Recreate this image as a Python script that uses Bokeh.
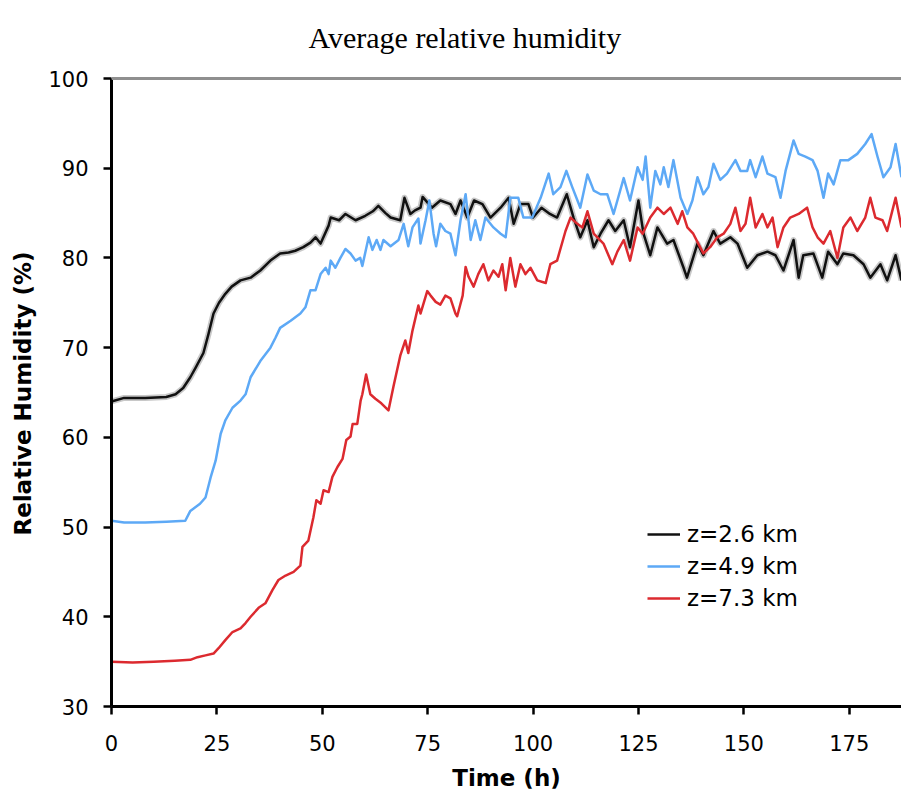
from bokeh.plotting import figure
from bokeh.models import Range1d, Span, Legend, LegendItem, FixedTicker, Label
from bokeh.embed import file_html
from bokeh.resources import INLINE

# ---------------- data ----------------
black_t = [0, 3, 8, 13, 15.2, 17, 18.7, 20, 21.8, 23, 24.2, 25.5, 27, 28.5, 30.6, 33, 35.3, 37.7, 40, 42,
           43.6, 45.5, 47.2, 48.4, 49.6, 51.5, 52, 54, 55.5, 57.9, 60.2, 62, 63.3, 65, 66.2, 68.5, 69.5, 70.9, 72, 73.3,
           73.8, 76, 78, 80.4, 81.6, 82.8, 84.4, 86, 88, 89.9, 92.3, 94.2, 95.4, 97, 98.9, 100, 102, 104, 105.7, 108,
           109.6, 111.2, 112.9, 114.4, 116, 117.9, 119.5, 121.5, 123, 125, 126.2, 127.8, 129.5, 131.8, 133.3, 135.7, 136.5, 139, 140.4, 142.8,
           144.4, 146.8, 148.5, 150.8, 153.2, 155.6, 157.5, 159.4, 161.8, 163, 164.1, 166.5, 168.6, 170, 172.2, 173.6, 176, 178.4, 180, 182.4,
           184, 186, 187.4]
black_rh = [64.0, 64.4, 64.4, 64.5, 64.8, 65.5, 66.7, 67.8, 69.4, 71.5, 73.8, 75.0, 76.0, 76.8, 77.5, 77.8, 78.6, 79.7, 80.5, 80.6,
            80.8, 81.2, 81.7, 82.3, 81.6, 83.6, 84.5, 84.2, 84.9, 84.2, 84.7, 85.2, 85.8, 85.0, 84.5, 84.2, 86.7, 84.9, 85.3, 85.6,
            86.8, 85.6, 86.4, 86.0, 84.9, 86.4, 84.5, 86.4, 86.0, 84.5, 85.6, 86.7, 83.8, 86.0, 86.0, 84.5, 85.6, 84.9, 84.5, 87.1,
            84.5, 82.3, 84.2, 81.2, 82.7, 84.2, 83.0, 84.2, 81.2, 86.4, 82.7, 80.3, 83.4, 81.6, 82.0, 78.9, 77.8, 81.6, 80.3, 83.0,
            81.6, 82.3, 81.6, 78.9, 80.3, 80.7, 80.3, 78.6, 82.0, 77.8, 80.3, 80.5, 77.8, 80.7, 79.3, 80.5, 80.3, 79.3, 77.8, 79.3,
            77.5, 80.3, 77.5]

blue_t = [0, 3, 8, 13, 17.5, 18.7, 21, 22.3, 23.5, 24.7, 25.9, 27, 28.7, 30.6, 31.8, 33, 35.3, 37.7, 38.9, 40,
          42.5, 44.8, 46, 47.2, 48.4, 49.6, 50.8, 51.5, 52, 53.1, 54.3, 55.5, 56.7, 57.9, 59, 59.5, 61, 61.9, 62.9, 63.8,
          64.5, 66.2, 68.1, 69.3, 70.4, 71.4, 72.8, 73.3, 74.5, 75.4, 76.4, 77, 78, 79.2, 80.4, 81.6, 82.8, 84, 85.2, 86.3,
          87.5, 88.7, 90.6, 92.3, 93.5, 94.6, 96.5, 97.7, 99.8, 101.8, 103.7, 104.8, 106.5, 107.9, 109.3, 111.2, 112.9, 114.4, 116, 117.6,
          119.1, 121.5, 123, 124.8, 126, 126.7, 127.8, 129, 130.2, 131, 132.1, 133.3, 135, 136.6, 137.8, 139, 140.4, 141.6, 142.8, 144.4,
          146, 148, 149.2, 150.8, 151.5, 152.8, 154.4, 155.6, 157.5, 158.7, 159.9, 161.8, 163, 164.6, 166.3, 167.5, 168.9, 170, 171.3, 172.9,
          174.8, 176.9, 178.8, 180.3, 181.7, 183.1, 184.8, 186, 187.4]
blue_rh = [50.7, 50.5, 50.5, 50.6, 50.7, 51.8, 52.6, 53.3, 55.5, 57.4, 60.4, 61.9, 63.3, 64.1, 64.8, 66.7, 68.5, 70.0, 71.1, 72.2,
           73.0, 73.8, 74.5, 76.4, 76.4, 78.2, 78.9, 78.2, 79.7, 78.9, 80.0, 81.0, 80.5, 79.7, 80.0, 79.1, 82.3, 80.9, 82.0, 80.9,
           82.0, 81.3, 82.0, 83.8, 81.3, 83.4, 84.4, 81.6, 84.2, 86.4, 82.7, 81.3, 83.8, 83.0, 82.7, 80.3, 84.2, 87.1, 82.0, 84.2,
           82.0, 84.5, 83.4, 82.7, 82.3, 86.7, 86.7, 84.5, 84.5, 86.7, 89.4, 87.1, 87.9, 89.7, 87.9, 85.6, 89.3, 87.5, 87.1, 87.1,
           84.9, 88.9, 86.4, 90.1, 88.7, 91.3, 85.6, 89.7, 88.2, 90.1, 87.9, 90.9, 86.7, 84.9, 86.4, 89.0, 87.1, 87.9, 90.5, 88.7,
           89.4, 90.9, 89.7, 89.7, 90.9, 89.0, 91.3, 89.4, 89.0, 86.7, 89.7, 93.1, 91.6, 91.3, 90.9, 89.7, 86.7, 89.4, 88.2, 90.9,
           90.9, 91.6, 92.7, 93.8, 91.3, 89.0, 90.1, 92.7, 89.0]

red_t = [0, 5, 10, 15, 18.7, 20.4, 22.3, 24.2, 25.4, 27, 28.7, 30.6, 31.8, 33, 34.9, 36.5, 38.2, 39.6, 41.3, 43.2,
         44.8, 45.3, 46.7, 47.9, 48.6, 49.6, 50.3, 51.5, 52.4, 53.6, 54.8, 55.7, 56.7, 57.2, 58.3, 59.1, 59.5, 60.4, 61.4, 62.6,
         64, 65.7, 66.9, 68.5, 69.7, 70.4, 71.4, 72.8, 73.3, 74.9, 75.7, 76.9, 78, 79.2, 80.4, 81.6, 82, 83.3, 84, 84.7,
         85.9, 87, 88.2, 89.4, 90.6, 91.8, 92.7, 93.5, 94.6, 95.8, 97, 98.2, 99.4, 101, 103, 104.1, 105.7, 107.7, 108.9, 110.5,
         111.7, 112.9, 114.4, 116.7, 118.8, 120, 121.5, 123, 124.8, 126, 127.8, 129.5, 131, 132.6, 134.3, 135.4, 136.6, 138, 139.2, 140.4,
         142, 143.7, 145.2, 146.8, 148, 149.2, 150.4, 151.5, 152.8, 154.4, 155.6, 156.8, 158, 159.4, 161, 163, 165, 166.3, 167.5, 168.9,
         170.5, 172.2, 173.6, 175.3, 176.9, 178.8, 180, 181.2, 182.9, 184, 186, 187.4]
red_rh = [35.0, 34.9, 35.0, 35.1, 35.2, 35.5, 35.7, 35.9, 36.5, 37.4, 38.3, 38.7, 39.3, 40.0, 41.0, 41.5, 43.0, 44.1, 44.6, 45.0,
          45.7, 47.8, 48.5, 51.1, 53.0, 52.6, 54.1, 53.9, 55.6, 56.7, 57.6, 59.7, 60.1, 61.5, 61.5, 64.1, 64.8, 67.0, 64.8, 64.3,
          63.8, 63.0, 65.7, 69.1, 70.8, 69.4, 71.9, 74.7, 73.8, 76.3, 75.8, 75.1, 74.8, 75.8, 75.5, 73.8, 73.5, 75.8, 79.0, 77.9,
          76.8, 78.2, 79.3, 77.5, 78.6, 77.9, 79.3, 76.4, 80.0, 76.8, 79.3, 78.2, 78.9, 77.5, 77.2, 79.3, 79.7, 83.0, 84.5, 83.8,
          83.4, 85.2, 82.7, 81.6, 79.3, 80.7, 82.0, 79.7, 83.4, 82.7, 84.5, 85.6, 84.9, 85.6, 83.8, 85.2, 83.4, 82.7, 81.6, 80.5,
          81.2, 82.3, 82.7, 83.8, 85.6, 83.0, 83.8, 86.7, 83.4, 84.9, 83.4, 84.5, 81.2, 83.4, 84.5, 84.9, 85.6, 83.4, 82.3, 81.6,
          83.0, 80.0, 83.4, 84.5, 83.0, 84.5, 86.7, 84.5, 84.2, 83.0, 86.7, 83.4]

title_text = "Average relative humidity"
x_label = "Time (h)"
y_label = "Relative Humidity (%)"
series_labels = ["z=2.6 km", "z=4.9 km", "z=7.3 km"]
x_ticks = [0, 25, 50, 75, 100, 125, 150, 175]
y_ticks = [30, 40, 50, 60, 70, 80, 90, 100]
y_min, y_max = 30, 100

# ---------------- figure ----------------
FRAME_H = 706          # frame spans the whole height above the x axis
AXIS_H = 628           # pixel height of the 30..100 span
y_top = y_min + (y_max - y_min) * FRAME_H / AXIS_H   # blank room above 100 holds the title

p = figure(width=901, height=795, output_backend="svg", toolbar_location=None,
           x_range=Range1d(0, 187.4), y_range=Range1d(y_min, y_top),
           min_border_left=111, min_border_right=0, min_border_top=0, min_border_bottom=89)
p.title.visible = False
p.background_fill_color = "white"
p.border_fill_color = "white"
p.outline_line_color = None
p.grid.visible = False

title = Label(x=197, y=FRAME_H - 37, x_units="screen", y_units="screen", text=title_text,
              text_font="Liberation Serif", text_font_size="30px", text_color="black",
              text_align="left", text_baseline="alphabetic")
p.add_layout(title)

for ax in (p.xaxis, p.yaxis):
    ax.axis_line_color = "black"
    ax.axis_line_width = 3
    ax.major_tick_line_color = "black"
    ax.major_tick_line_width = 2.5
    ax.major_tick_in = 0
    ax.major_tick_out = 8
    ax.minor_tick_line_color = None
    ax.major_label_text_font = "DejaVu Sans"
    ax.major_label_text_font_size = "21px"
    ax.major_label_text_color = "black"
    ax.axis_label_text_font = "DejaVu Sans"
    ax.axis_label_text_font_size = "23px"
    ax.axis_label_text_font_style = "bold"
    ax.axis_label_text_color = "black"

p.yaxis.bounds = (y_min, y_max)
p.xaxis.ticker = FixedTicker(ticks=x_ticks)
p.yaxis.ticker = FixedTicker(ticks=y_ticks)
p.xaxis.axis_label = x_label
# the label is centred on the whole frame (which also holds the title), so
# non-breaking padding after the text moves it to the middle of the 30..100 span
p.yaxis.axis_label = y_label + "\u00a0" * 10
p.xaxis.major_label_standoff = 20
p.yaxis.major_label_standoff = 15
p.xaxis.axis_label_standoff = 11
p.yaxis.axis_label_standoff = 9

top_line = Span(location=y_max, dimension="width", line_color="#8f8f8f", line_width=3)
p.add_layout(top_line)

p.line(black_t, black_rh, line_color="#9a9a9a", line_width=6, line_alpha=0.55, line_join="round")
r_black = p.line(black_t, black_rh, line_color="#111111", line_width=2.5, line_join="round")
r_blue = p.line(blue_t, blue_rh, line_color="#5DA9F6", line_width=2.5, line_join="round")
r_red = p.line(red_t, red_rh, line_color="#DC2A2F", line_width=2.5, line_join="round")

legend = Legend(items=[LegendItem(label=series_labels[0], renderers=[r_black]),
                       LegendItem(label=series_labels[1], renderers=[r_blue]),
                       LegendItem(label=series_labels[2], renderers=[r_red])],
                location=(536, 92))
legend.border_line_color = None
legend.background_fill_alpha = 0
legend.padding = 0
legend.margin = 0
legend.spacing = 0
legend.glyph_width = 33
legend.glyph_height = 32
legend.label_height = 32
legend.label_standoff = 7
legend.label_text_font = "DejaVu Sans"
legend.label_text_font_size = "23px"
legend.label_text_color = "black"
p.add_layout(legend, "center")

open("out.html", "w").write(file_html(p, INLINE))
